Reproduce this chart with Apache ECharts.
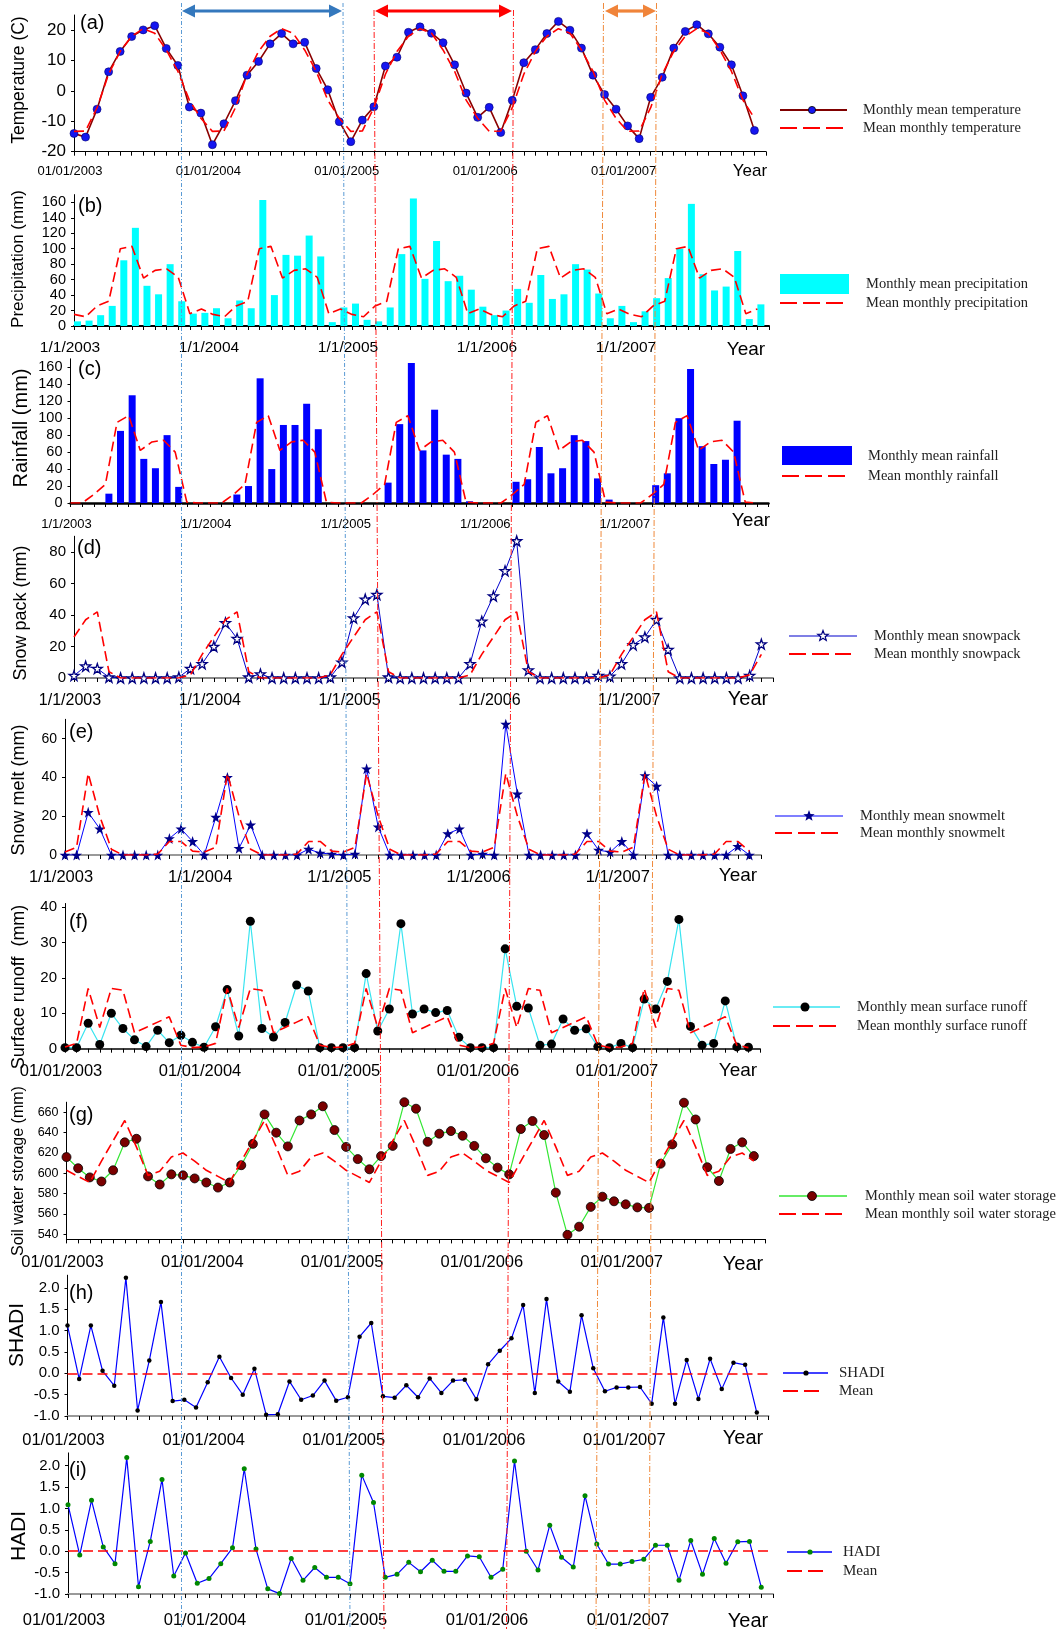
<!DOCTYPE html>
<html><head><meta charset="utf-8">
<script src="https://cdn.jsdelivr.net/npm/echarts@6/dist/echarts.min.js"></script>
<style>html,body{margin:0;padding:0;background:#fff}#c{width:1060px;height:1629px}</style>
</head><body><div id="c"></div>
<script>
// ---------------- DATA ----------------
const datesLong = ['01/01/2003','01/01/2004','01/01/2005','01/01/2006','01/01/2007'];
const datesShort = ['1/1/2003','1/1/2004','1/1/2005','1/1/2006','1/1/2007'];

const tempMonthly = [-14,-15.2,-6,6.3,13,17.9,20.1,21.5,14,8.4,-5.3,-7.3,
 -17.7,-10.8,-3.2,5.2,9.7,15.5,18.9,15.5,16,7.4,0.4,-10.1,
 -16.7,-9.6,-5.2,8.2,11.1,19.3,21.1,19,15.9,8.6,-0.7,-8.7,
 -5.4,-13.7,-3.1,9.3,13.6,18.9,22.9,20,14.1,5.2,-1.2,-6,
 -11.5,-15.7,-2.1,4.5,14.1,19.6,21.8,18.8,14.4,8.6,-1.6,-13];
const tempMeanByMonth = [-13.3,-13.2,-5.5,5.5,13,18,20.5,19,13.5,6.5,-3,-9];

const precipMonthly = [6,7,14,26,85,127,52,41,80,32,16,17,
 23,10,33,23,163,40,92,91,117,90,5,24,
 29,8,6,24,93,165,61,110,58,65,47,25,
 14,20,48,30,66,35,41,80,73,42,10,26,
 5,19,36,62,100,158,67,46,51,97,9,28];
const precipMeanByMonth = [15,12,26,32,100,103,62,72,74,63,16,22];

const rainMonthly = [0,0,0,11,85,127,52,41,80,19,0,0,
 0,0,10,20,147,40,92,92,117,87,0,0,
 0,0,0,24,93,165,62,110,57,52,2,0,
 0,0,25,28,66,35,41,80,73,29,4,0,
 0,0,21,35,100,158,67,46,51,97,0,0];
const rainMeanByMonth = [0,0,10,22,95,103,62,72,74,60,1,0];

const snowpackMonthly = [1.5,7.5,6,0.5,0,0,0,0,0,0.5,6,9,
 20,35,25,0.5,2.5,0,0,0,0,0,0.5,10,
 38,50,53,0.5,0,0,0,0,0,0,9,36,
 52,68,87,5,0,0,0,0,0,1.5,1,9,
 21,26,37,18,0,0,0,0,0,0,1.5,21.5];
const snowpackMeanByMonth = [26,37,42,4,0,0,0,0,0,0,2,15];

const snowmeltMonthly = [0,0,22,13.5,0,0,0,0,0,8.5,13.5,7,
 0,19.5,40,3.5,15.5,0,0,0,0,3,1,0.5,
 0,0.5,44.5,14.5,0,0,0,0,0,11,13.5,0,
 0.5,0,67.5,31.5,0,0,0,0,0,11,2.5,1.5,
 7,0,41,35.5,0,0,0,0,0,0,4.5,0];
const snowmeltMeanByMonth = [1.5,4,42,20,3,0,0,0,0.5,7,7,2];

const runoffMonthly = [0.3,0.3,7.2,1.2,10,5.7,2.5,0.6,5.2,1.7,3.8,1.8,
 0.4,6.2,16.7,3.6,36,5.7,3.3,7.4,18,16.3,0.3,0.3,
 0.3,0.3,21.2,5,11.2,35.3,9.8,11.2,10.2,10.8,3.2,0.3,
 0.3,0.3,28.2,12,11.5,1,1.3,8.4,5.2,5.6,0.6,0.3,
 1.5,0.3,14,11.2,19,36.5,6.3,1,1.5,13.5,0.5,0.4];
const runoffMeanByMonth = [0.5,1.5,17,6,17,16.5,4.5,6,7.5,9,1,0.3];

const soilMonthly = [616,605,596,592,603,630.5,634,597,589,599,598,595,
 591,586,591,608,629,658,640,626.5,652,658,666,642.6,
 626,614,604,617,627,670,663.6,631,639,641.6,637,627,
 614.8,605.6,599,643.6,651.5,637.7,581,539.5,547.5,567,577,572.5,
 569.5,566.5,566,609.5,628.5,669.5,653,606,592.5,624,630.5,617];
const soilMeanByMonth = [603,597,591,612,632,652,626,598,602,616,620,612];

const shadiMonthly = [1.12,-0.13,1.12,0.06,-0.29,2.24,-0.87,0.30,1.67,-0.65,-0.62,-0.80,
 -0.21,0.39,-0.11,-0.50,0.11,-0.97,-0.96,-0.19,-0.62,-0.52,-0.17,-0.64,
 -0.56,0.86,1.18,-0.54,-0.57,-0.28,-0.56,-0.12,-0.46,-0.17,-0.15,-0.61,
 0.21,0.53,0.82,1.60,-0.46,1.74,-0.19,-0.43,1.36,0.12,-0.42,-0.33,
 -0.33,-0.32,-0.71,1.31,-0.71,0.31,-0.60,0.34,-0.37,0.25,0.20,-0.92];
const shadiMean = 0;

const hadiMonthly = [1.09,-0.09,1.19,0.10,-0.29,2.19,-0.83,0.23,1.68,-0.58,-0.04,-0.75,
 -0.64,-0.29,0.08,1.93,0.05,-0.88,-0.99,-0.17,-0.68,-0.38,-0.61,-0.61,
 -0.76,1.78,1.14,-0.61,-0.54,-0.26,-0.48,-0.21,-0.47,-0.47,-0.11,-0.13,
 -0.61,-0.42,2.11,0.00,-0.44,0.61,-0.14,-0.37,1.30,0.17,-0.30,-0.30,
 -0.24,-0.19,0.14,0.14,-0.68,0.25,-0.54,0.30,-0.28,0.22,0.23,-0.84];
const hadiMean = 0;

const yTicksTemp = [-20,-10,0,10,20];
const yTicksPrecip = [0,20,40,60,80,100,120,140,160];
const yTicksSnowpack = [0,20,40,60,80];
const yTicksSnowmelt = [0,20,40,60];
const yTicksRunoff = [0,10,20,30,40];
const yTicksSoil = [540,560,580,600,620,640,660];
const yTicksIndex = [-1,-0.5,0,0.5,1,1.5,2];

// ---------------- helpers ----------------
const N_YEARS = 5;
function overYears(byMonth){const out=[];for(let y=0;y<N_YEARS;y++)for(let m=0;m<12;m++)out.push(byMonth[m]);return out;}
function pts(arr, off){return arr.map((v,i)=>[i+(off||0), v]);}
const monthTicks=[];for(let i=0;i<=60;i++)monthTicks.push(i);
const yearTicks=[0,12,24,36,48];

const SANS="'Liberation Sans', Arial, sans-serif";
const SERIF="'Liberation Serif', 'Times New Roman', serif";
const STAR='path://M50,0 L61.8,35.1 L98.9,35.1 L69.1,57.3 L79.4,92.7 L50,71.2 L20.6,92.7 L30.9,57.3 L1.1,35.1 L38.2,35.1 Z';
const RED='#ff0000';
const DASH=[10,5];

// ---------------- layout ----------------
const P = [
 {left:74,top:15,width:692,height:136.7,min:-20,max:25,yv:yTicksTemp,yFont:17,dates:datesLong,dFont:13,dMargin:13,xc:'#000',xw:1.2,letter:'(a)',lp:[80,23],yname:'Temperature (C)',yp:[19,80],ynF:17.5,year:[750,171],yearF:17},
 {left:74,top:194.6,width:695,height:131.4,min:0,max:170,yv:yTicksPrecip,yFont:14.5,dates:datesShort,dFont:15.5,dMargin:14,xc:'#000',xw:2,letter:'(b)',lp:[78,206],yname:'Precipitation (mm)',yp:[18,259],ynF:17,year:[746,350],yearF:19},
 {left:70.5,top:358.8,width:698,height:144.2,min:0,max:170,yv:yTicksPrecip,yFont:14.5,dates:datesShort,dFont:13,dMargin:15,xc:'#000',xw:2.5,letter:'(c)',lp:[78,369],yname:'Rainfall (mm)',yp:[21,428],ynF:20,year:[751,521],yearF:19},
 {left:74,top:536.25,width:699,height:141.75,min:0,max:90,yv:yTicksSnowpack,yFont:15,dates:datesShort,dFont:16,dMargin:15,xc:'#888',xw:2,letter:'(d)',lp:[77,548],yname:'Snow pack (mm)',yp:[21,613],ynF:18,year:[748,699],yearF:20},
 {left:65,top:719.3,width:696,height:135.7,min:0,max:70,yv:yTicksSnowmelt,yFont:14,dates:datesShort,dFont:16.5,dMargin:13.5,xc:'#999',xw:2,letter:'(e)',lp:[69,732],yname:'Snow melt (mm)',yp:[19,790],ynF:18,year:[738,876],yearF:19},
 {left:65,top:903.5,width:695,height:145.2,min:0,max:41,yv:yTicksRunoff,yFont:15,dates:datesLong,dFont:16.5,dMargin:14,xc:'#000',xw:1.5,letter:'(f)',lp:[69,922],yname:'Surface runoff  (mm)',yp:[19,987],ynF:18,year:[738,1071],yearF:19},
 {left:66.5,top:1102.2,width:699,height:137.2,min:535,max:670,yv:yTicksSoil,yFont:12.5,dates:datesLong,dFont:16.5,dMargin:15,xc:'#000',xw:1.2,letter:'(g)',lp:[69,1115],yname:'Soil water storage (mm)',yp:[19,1171],ynF:16,year:[743,1264],yearF:20},
 {left:67.5,top:1275.2,width:701,height:140.8,min:-1,max:2.3,yv:yTicksIndex,yFont:15,dates:datesLong,dFont:16.5,dMargin:15.5,xc:'#999',xw:2,letter:'(h)',lp:[69,1293],yname:'SHADI',yp:[17,1335],ynF:21,year:[743,1438],yearF:20,dec:true},
 {left:68,top:1452.9,width:705,height:141.1,min:-1,max:2.3,yv:yTicksIndex,yFont:15,dates:datesLong,dFont:16.5,dMargin:17.5,xc:'#999',xw:2,letter:'(i)',lp:[69,1470],yname:'HADI',yp:[19,1536],ynF:21,year:[748,1621],yearF:20,dec:true}
];

const grid=P.map(p=>({left:p.left,top:p.top,width:p.width,height:p.height}));
const xAxis=P.map((p,k)=>({type:'value',gridIndex:k,min:0,max:60,
  axisLine:{show:true,onZero:false,lineStyle:{color:p.xc,width:p.xw}},
  axisTick:{show:true,customValues:monthTicks,length:4,lineStyle:{color:'#000',width:1}},
  axisLabel:{customValues:yearTicks,formatter:v=>p.dates[Math.round(v/12)],fontSize:p.dFont,fontFamily:SANS,color:'#000',margin:p.dMargin,padding:[0,8,0,0]},
  splitLine:{show:false}}));
const yAxis=P.map((p,k)=>({type:'value',gridIndex:k,min:p.min,max:p.max,
  axisLine:{show:true,onZero:false,lineStyle:{color:'#000',width:1}},
  axisTick:{show:true,customValues:p.yv,length:3,lineStyle:{color:'#000'}},
  axisLabel:{customValues:p.yv,fontSize:p.yFont,fontFamily:SANS,color:'#000',margin:8,formatter:v=>p.dec?v.toFixed(1):String(v)},
  splitLine:{show:false}}));

function meanLine(k,byMonth){return {type:'line',xAxisIndex:k,yAxisIndex:k,data:pts(overYears(byMonth)),symbol:'none',lineStyle:{color:RED,width:1.6,type:DASH},z:4};}
const series=[
 {type:'line',xAxisIndex:0,yAxisIndex:0,data:pts(tempMonthly),symbol:'circle',symbolSize:8,lineStyle:{color:'#8b0000',width:1.6},itemStyle:{color:'#1515f0',borderColor:'#000070',borderWidth:0.6},z:3},
 meanLine(0,tempMeanByMonth),
 {type:'bar',xAxisIndex:1,yAxisIndex:1,data:pts(precipMonthly,0.3),barWidth:7,itemStyle:{color:'#00ffff'},z:2},
 meanLine(1,precipMeanByMonth),
 {type:'bar',xAxisIndex:2,yAxisIndex:2,data:pts(rainMonthly,0.3),barWidth:7,itemStyle:{color:'#0000ff'},z:2},
 meanLine(2,rainMeanByMonth),
 {type:'line',xAxisIndex:3,yAxisIndex:3,data:pts(snowpackMonthly),symbol:STAR,symbolSize:10,lineStyle:{color:'#0000cc',width:1},itemStyle:{color:'#ffffff',borderColor:'#000080',borderWidth:1.3},z:3},
 meanLine(3,snowpackMeanByMonth),
 {type:'line',xAxisIndex:4,yAxisIndex:4,data:pts(snowmeltMonthly),symbol:STAR,symbolSize:11,lineStyle:{color:'#0000ff',width:1},itemStyle:{color:'#00008b'},z:3},
 meanLine(4,snowmeltMeanByMonth),
 {type:'line',xAxisIndex:5,yAxisIndex:5,data:pts(runoffMonthly),symbol:'circle',symbolSize:9,lineStyle:{color:'#38e4f0',width:1.2},itemStyle:{color:'#000'},z:3},
 meanLine(5,runoffMeanByMonth),
 {type:'line',xAxisIndex:6,yAxisIndex:6,data:pts(soilMonthly),symbol:'circle',symbolSize:9,lineStyle:{color:'#33e633',width:1.2},itemStyle:{color:'#7a0000',borderColor:'#000',borderWidth:0.8},z:3},
 meanLine(6,soilMeanByMonth),
 {type:'line',xAxisIndex:7,yAxisIndex:7,data:pts(shadiMonthly),symbol:'circle',symbolSize:4.5,lineStyle:{color:'#0000ff',width:1.2},itemStyle:{color:'#000'},z:3,
  markLine:{silent:true,symbol:'none',label:{show:false},lineStyle:{color:RED,width:1.6,type:DASH},data:[{yAxis:shadiMean}]}},
 {type:'line',xAxisIndex:8,yAxisIndex:8,data:pts(hadiMonthly),symbol:'circle',symbolSize:5,lineStyle:{color:'#0000ff',width:1.2},itemStyle:{color:'#008800'},z:3,
  markLine:{silent:true,symbol:'none',label:{show:false},lineStyle:{color:RED,width:1.6,type:DASH},data:[{yAxis:hadiMean}]}}
];

// ---------------- annotations ----------------
const G=[];
function txt(x,y,s,font,opt){opt=opt||{};G.push({type:'text',x:x,y:y,rotation:opt.rot||0,z:100,style:{text:s,font:font,fill:opt.fill||'#000',align:opt.align||'left',textAlign:opt.align||'left',verticalAlign:'middle',textVerticalAlign:'middle'}});}
function ln(x1,y1,x2,y2,color,w,dash){G.push({type:'line',z:90,shape:{x1:x1,y1:y1,x2:x2,y2:y2},style:{stroke:color,lineWidth:w,lineDash:dash||null}});}
function circ(cx,cy,r,fill,stroke){G.push({type:'circle',z:101,shape:{cx:cx,cy:cy,r:r},style:{fill:fill,stroke:stroke||null,lineWidth:stroke?0.8:0}});}
function rect(x,y,w,h,fill){G.push({type:'rect',z:100,shape:{x:x,y:y,width:w,height:h},style:{fill:fill}});}
function star(cx,cy,R,fill,stroke){const p=[];for(let k=0;k<10;k++){const a=-Math.PI/2+k*Math.PI/5;const r=k%2?R*0.42:R;p.push([cx+r*Math.cos(a),cy+r*Math.sin(a)]);}
 G.push({type:'polygon',z:101,shape:{points:p},style:{fill:fill,stroke:stroke||null,lineWidth:stroke?1.2:0}});}
function arrow(x1,x2,y,color){const hl=13,hw=6.5;
 G.push({type:'line',z:95,shape:{x1:x1+hl-2,y1:y,x2:x2-hl+2,y2:y},style:{stroke:color,lineWidth:3.2}});
 G.push({type:'polygon',z:95,shape:{points:[[x1,y],[x1+hl,y-hw],[x1+hl,y+hw]]},style:{fill:color}});
 G.push({type:'polygon',z:95,shape:{points:[[x2,y],[x2-hl,y-hw],[x2-hl,y+hw]]},style:{fill:color}});}

// period markers
ln(181.5,3,181.5,1629,'#5b9bd5',1,[4,2,1,2]);
ln(343,3,350,1629,'#5b9bd5',1,[4,2,1,2]);
ln(374,10,384,1629,'#ff2020',1,[6,2,1,2]);
ln(513.5,10,506.5,1629,'#ff2020',1,[6,2,1,2]);
ln(603.5,3,596,1629,'#f08a3c',1,[6,2,1,2]);
ln(656.5,3,649,1629,'#f08a3c',1,[6,2,1,2]);
arrow(182,342,11,'#3478bd');
arrow(375,512,11,'#ff0000');
arrow(605,656,11,'#f0843a');

// panel texts
P.forEach(p=>{
 txt(p.lp[0],p.lp[1],p.letter,'20px '+SANS);
 txt(p.yp[0],p.yp[1],p.yname,p.ynF+'px '+SANS,{rot:Math.PI/2,align:'center'});
 txt(p.year[0],p.year[1],'Year',p.yearF+'px '+SANS,{align:'center'});
});

// legends
const LF='14.5px '+SERIF, LC='#222';
function dashRow(x1,x2,y){ln(x1,y,x2,y,RED,2,[17,6]);}
ln(780,110,847,110,'#800000',2); circ(812,110,3.6,'#1515f0','#000');
txt(863,110,'Monthly mean temperature',LF,{fill:LC}); dashRow(780,845,128); txt(863,128,'Mean monthly temperature',LF,{fill:LC});
rect(780,274,69,20,'#00ffff'); txt(866,284,'Monthly mean precipitation',LF,{fill:LC}); dashRow(780,846,303); txt(866,303,'Mean monthly precipitation',LF,{fill:LC});
rect(782,446,70,19,'#0000ff'); txt(868,456,'Monthly mean rainfall',LF,{fill:LC}); dashRow(782,848,476); txt(868,476,'Mean monthly rainfall',LF,{fill:LC});
ln(789,636,857,636,'#0000cc',1.2); star(823,636,5.5,'#fff','#000080');
txt(874,636,'Monthly mean snowpack',LF,{fill:LC}); dashRow(789,851,654); txt(874,654,'Mean monthly snowpack',LF,{fill:LC});
ln(775,816,843,816,'#0000ff',1.2); star(809,816,6,'#00008b');
txt(860,816,'Monthly mean snowmelt',LF,{fill:LC}); dashRow(775,838,833); txt(860,833,'Mean monthly snowmelt',LF,{fill:LC});
ln(773,1007,840,1007,'#38e4f0',1.5); circ(805,1007,4.5,'#000');
txt(857,1007,'Monthly mean surface runoff',LF,{fill:LC}); dashRow(773,836,1026); txt(857,1026,'Mean monthly surface runoff',LF,{fill:LC});
ln(779,1196,847,1196,'#33e633',1.5); circ(812,1196,4.5,'#7a0000','#000');
txt(865,1196,'Monthly mean soil water storage',LF,{fill:LC}); dashRow(779,842,1214); txt(865,1214,'Mean monthly soil water storage',LF,{fill:LC});
const LF2='15px '+SERIF;
ln(783,1373,828,1373,'#0000ff',1.5); circ(806,1373,2.6,'#000');
txt(839,1373,'SHADI',LF2,{fill:LC}); ln(783,1391,823,1391,RED,2,[15,6]); txt(839,1391,'Mean',LF2,{fill:LC});
ln(787,1552,832,1552,'#0000ff',1.5); circ(810,1552,2.6,'#008800');
txt(843,1552,'HADI',LF2,{fill:LC}); ln(787,1571,827,1571,RED,2,[15,6]); txt(843,1571,'Mean',LF2,{fill:LC});

const chart=echarts.init(document.getElementById('c'),null,{renderer:'canvas'});
chart.setOption({animation:false,backgroundColor:'#fff',grid:grid,xAxis:xAxis,yAxis:yAxis,series:series,graphic:{elements:G}});
</script></body></html>
